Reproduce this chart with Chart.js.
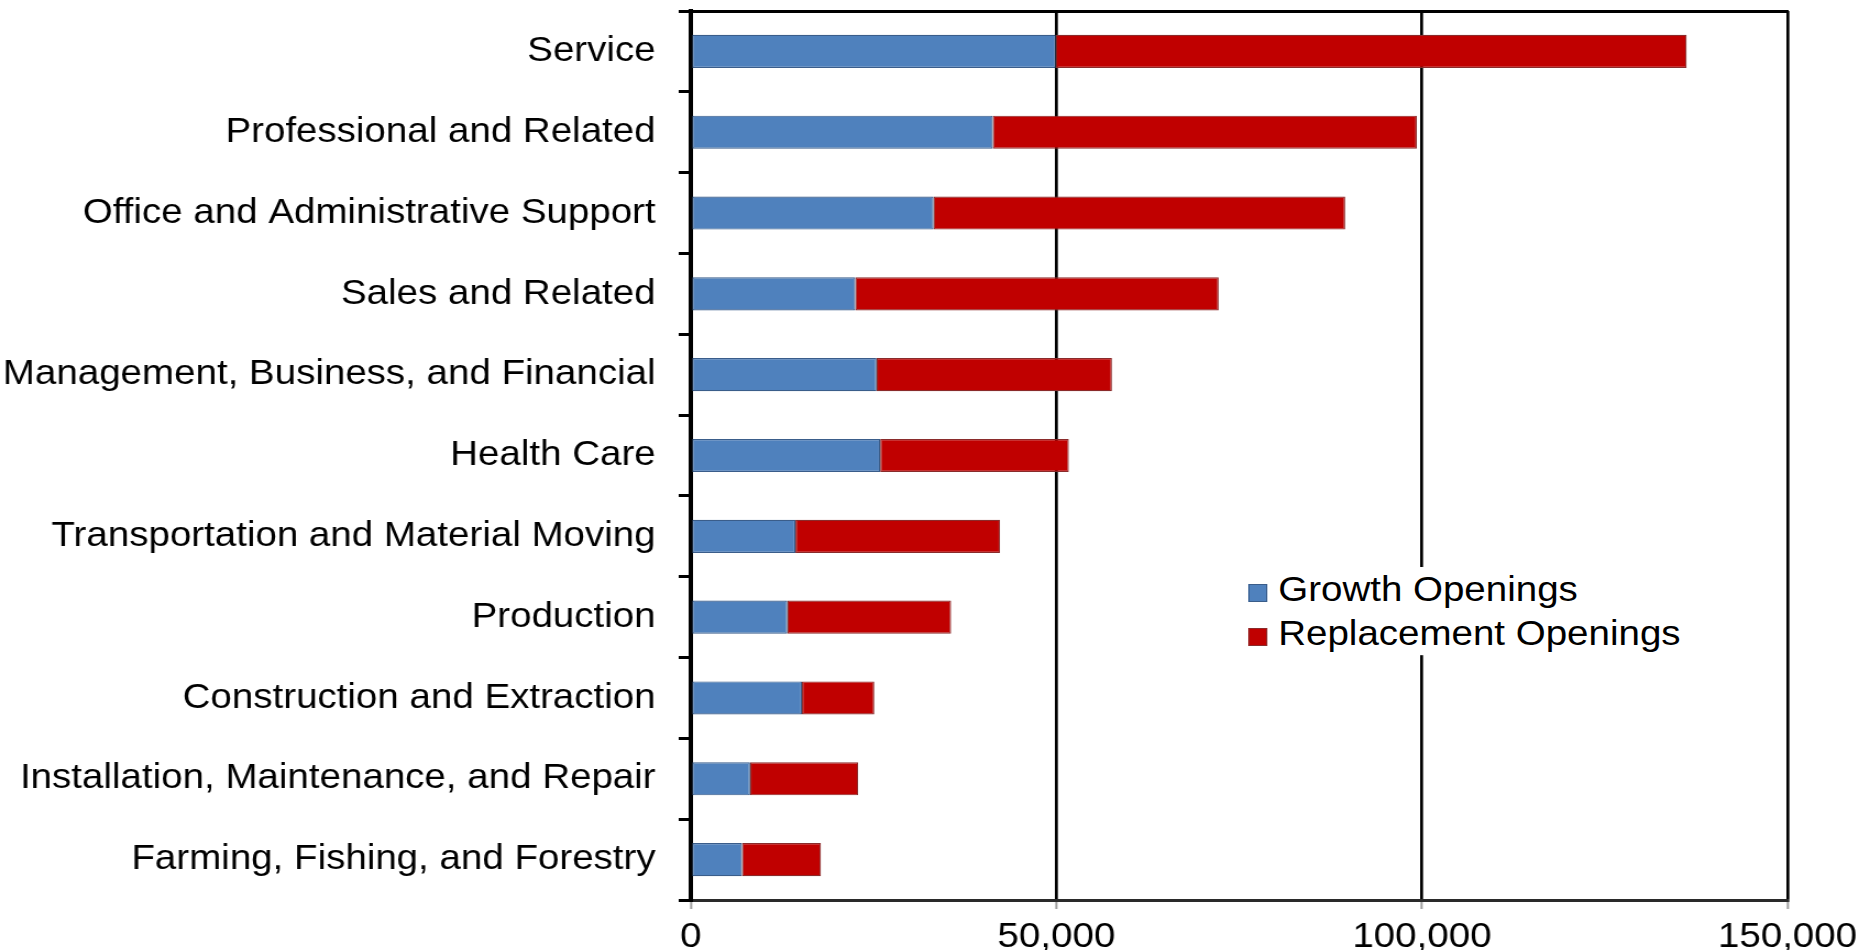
<!DOCTYPE html>
<html>
<head>
<meta charset="utf-8">
<script src="https://cdn.jsdelivr.net/npm/chart.js@4"></script>
<style>
  html, body { margin: 0; padding: 0; background: #fff; overflow: hidden; }
  /* the original picture is a bit wider than tall, so the whole chart is stretched sideways */
  #wrap { position: relative; width: 1700px; height: 950px; transform: scaleX(1.1); transform-origin: 0 0; }
  /* white box, so the 100,000 grid line stops behind the legend like in the original */
  #legend { position: absolute; left: 1127px; top: 567px; padding: 0 8px; background: #fff; font: 35px "Liberation Sans", Arial, sans-serif; color: #000; }
  .item { height: 44px; line-height: 44px; white-space: nowrap; }
  .box { display: inline-block; width: 17px; height: 18px; margin-right: 10px; vertical-align: -1px; box-sizing: border-box; border: 1px solid; }
</style>
</head>
<body>
<div id="wrap">
  <canvas id="chart" width="1700" height="950"></canvas>
  <div id="legend"></div>
</div>
<script>
// occupation groups, top to bottom
const categories = [
    'Service',
    'Professional and Related',
    'Office and Administrative Support',
    'Sales and Related',
    'Management, Business, and Financial',
    'Health Care',
    'Transportation and Material Moving',
    'Production',
    'Construction and Extraction',
    'Installation, Maintenance, and Repair',
    'Farming, Fishing, and Forestry'
];

// openings
const growthOpenings = [49900, 41300, 33200, 22500, 25400, 25900, 14300, 13200, 15200, 8100, 7000];
const replacementOpenings = [86300, 58000, 56300, 49700, 32200, 25800, 28000, 22400, 9900, 14800, 10800];

// x axis ticks
const xTicks = [0, 50000, 100000, 150000];

const seriesNames = ['Growth Openings', 'Replacement Openings'];
const fillColors = ['#4f81bd', '#c00000'];
const edgeColors = ['#3a5d8a', '#8a2b2b'];

const font = { family: '"Liberation Sans", Arial, sans-serif', size: 35 };

const ctx = document.getElementById('chart').getContext('2d');
const myChart = new Chart(ctx, {
    type: 'bar',
    data: {
        labels: categories,
        datasets: [growthOpenings, replacementOpenings].map((vals, i) => ({
            label: seriesNames[i],
            data: vals,
            backgroundColor: fillColors[i],
            borderColor: edgeColors[i],
            borderWidth: 1.2,
            borderSkipped: false,
            categoryPercentage: 1,
            barPercentage: 0.41
        }))
    },
    options: {
        indexAxis: 'y',
        responsive: false,
        animation: false,
        devicePixelRatio: 1,
        layout: { padding: { left: 0, right: 75, top: 11, bottom: 0 } },
        plugins: {
            legend: { display: false },
            tooltip: { enabled: false }
        },
        scales: {
            x: {
                stacked: true,
                min: 0,
                max: 150000,
                afterBuildTicks: (scale) => { scale.ticks = xTicks.map(v => ({ value: v })); },
                afterFit: (scale) => { scale.height = 50; },
                ticks: {
                    color: '#000',
                    font: font,
                    padding: 7,
                    maxRotation: 0,
                    callback: (v) => v.toLocaleString('en-US')
                },
                grid: {
                    color: '#000',
                    lineWidth: 2.7,
                    tickColor: '#a0a0a0',
                    tickWidth: 2,
                    tickLength: 9
                },
                border: { color: '#2a2a2a', width: 3 }
            },
            // only here to give the plot its top edge
            x2: {
                position: 'top',
                min: 0,
                max: 150000,
                afterFit: (scale) => { scale.height = 0; },
                ticks: { display: false },
                grid: { display: false },
                border: { color: '#000', width: 3 }
            },
            y: {
                stacked: true,
                afterFit: (scale) => {
                    scale.width = 628;
                    // no extra room above/below for the first and last labels
                    scale.paddingTop = 0;
                    scale.paddingBottom = 0;
                },
                ticks: { color: '#000', font: font, padding: 21 },
                grid: {
                    offset: true,
                    drawOnChartArea: false,
                    color: '#000',
                    lineWidth: 3,
                    tickLength: 11
                },
                border: { color: '#000', width: 4 }
            }
        }
    }
});

// legend sits inside the plot, right of the short bars
const legendDiv = document.getElementById('legend');
myChart.data.datasets.forEach((ds) => {
    const row = document.createElement('div');
    row.className = 'item';
    const box = document.createElement('span');
    box.className = 'box';
    box.style.background = ds.backgroundColor;
    box.style.borderColor = ds.borderColor;
    row.appendChild(box);
    row.appendChild(document.createTextNode(ds.label));
    legendDiv.appendChild(row);
});
</script>
</body>
</html>
